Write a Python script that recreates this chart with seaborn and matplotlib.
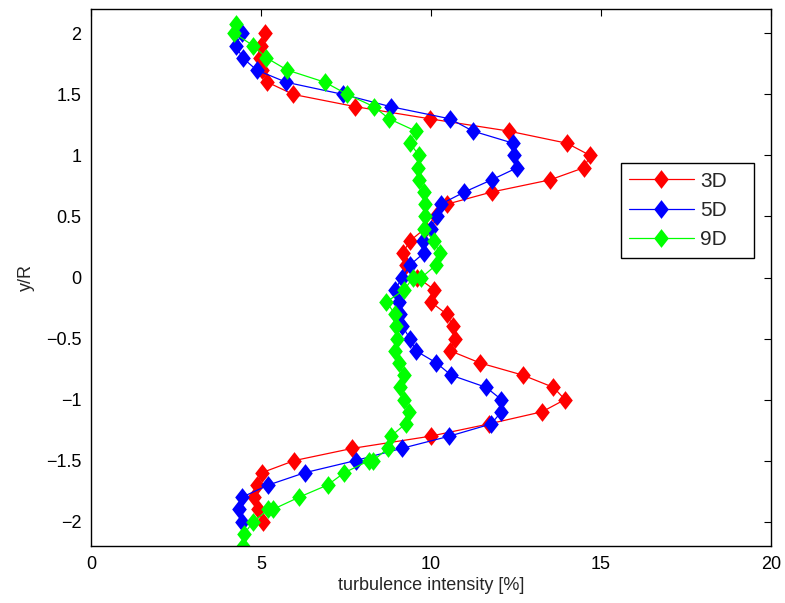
import numpy as np
import pandas as pd
import matplotlib
matplotlib.use("Agg")
import matplotlib.pyplot as plt
from matplotlib.ticker import FuncFormatter
import seaborn as sns

# ---- data ----
series_names = ["3D", "5D", "9D"]

y_3d = [2.0, 1.9, 1.8, 1.7, 1.6, 1.5, 1.4, 1.3, 1.2, 1.1, 1.0, 0.9, 0.8, 0.7, 0.6,
        0.5, 0.4, 0.3, 0.2, 0.1, 0.0, -0.1, -0.2, -0.3, -0.4, -0.5, -0.6, -0.7,
        -0.8, -0.9, -1.0, -1.1, -1.2, -1.3, -1.4, -1.5, -1.6, -1.7, -1.8, -1.9, -2.0]
ti_3d = [5.12, 5.00, 4.98, 5.03, 5.19, 5.95, 7.77, 9.97, 12.28, 14.00, 14.68, 14.50,
         13.50, 11.78, 10.46, 10.15, 9.82, 9.38, 9.17, 9.26, 9.60, 10.10, 9.99,
         10.46, 10.65, 10.70, 10.56, 11.44, 12.70, 13.60, 13.94, 13.27, 11.70,
         9.99, 7.69, 5.98, 5.02, 4.87, 4.79, 4.92, 5.05]

y_5d = [2.0, 1.9, 1.8, 1.7, 1.6, 1.5, 1.4, 1.3, 1.2, 1.1, 1.0, 0.9, 0.8, 0.7, 0.6,
        0.5, 0.4, 0.3, 0.2, 0.1, 0.0, -0.1, -0.2, -0.3, -0.4, -0.5, -0.6, -0.7,
        -0.8, -0.9, -1.0, -1.1, -1.2, -1.3, -1.4, -1.5, -1.6, -1.7, -1.8, -1.9, -2.0]
ti_5d = [4.43, 4.26, 4.46, 4.87, 5.74, 7.42, 8.81, 10.56, 11.23, 12.42, 12.44, 12.54,
         11.78, 10.98, 10.28, 10.18, 10.00, 9.77, 9.79, 9.37, 9.16, 8.94, 9.06,
         9.10, 9.16, 9.38, 9.55, 10.16, 10.59, 11.62, 12.07, 12.07, 11.77, 10.54,
         9.14, 7.78, 6.28, 5.22, 4.44, 4.35, 4.44]

y_9d = [2.08, 2.0, 1.9, 1.8, 1.7, 1.6, 1.5, 1.4, 1.3, 1.2, 1.1, 1.0, 0.9, 0.8, 0.7,
        0.6, 0.5, 0.4, 0.3, 0.2, 0.1, 0.0, 0.0, -0.1, -0.2, -0.3, -0.4, -0.5, -0.6,
        -0.7, -0.8, -0.9, -1.0, -1.1, -1.2, -1.3, -1.4, -1.5, -1.5, -1.6, -1.7,
        -1.8, -1.9, -1.9, -2.0, -2.1, -2.2]
ti_9d = [4.25, 4.22, 4.77, 5.16, 5.77, 6.88, 7.54, 8.32, 8.77, 9.55, 9.38, 9.65,
         9.63, 9.65, 9.80, 9.82, 9.82, 9.80, 10.09, 10.25, 10.14, 9.72, 9.47,
         9.22, 8.69, 8.94, 8.97, 8.99, 8.93, 9.05, 9.20, 9.09, 9.20, 9.36, 9.25,
         8.82, 8.73, 8.30, 8.18, 7.45, 6.96, 6.12, 5.35, 5.22, 4.77, 4.51, 4.48]

x_ticks = [0, 5, 10, 15, 20]
y_ticks = [-2, -1.5, -1, -0.5, 0, 0.5, 1, 1.5, 2]

frames = []
for name, ys, xs in zip(series_names, [y_3d, y_5d, y_9d], [ti_3d, ti_5d, ti_9d]):
    frames.append(pd.DataFrame({"ti": xs, "y": ys, "series": name,
                                "order": np.arange(len(xs))}))
df = pd.concat(frames, ignore_index=True)

# ---- style ----
sns.set_theme(style="white")
plt.rcParams["font.family"] = ["Liberation Sans", "DejaVu Sans"]
plt.rcParams["axes.unicode_minus"] = True

palette = {"3D": "#ff0000", "5D": "#0000ff", "9D": "#00ff00"}
diamond = [(0, 1), (0.78, 0), (0, -1), (-0.78, 0), (0, 1)]

fig = plt.figure(figsize=(7.85, 6.03), dpi=100)
ax = fig.add_axes([91 / 785, 1 - 546 / 603, 680 / 785, 537 / 603])

sns.lineplot(data=df, x="ti", y="y", hue="series", palette=palette,
             hue_order=series_names, sort=False, estimator=None, units="series",
             marker=diamond, markersize=13.5, markeredgewidth=0,
             linewidth=0.9, legend=False, ax=ax)

ax.set_xlim(0, 20)
ax.set_ylim(-2.2, 2.2)
ax.set_xticks(x_ticks)
ax.set_yticks(y_ticks)
fmt = FuncFormatter(lambda v, p: ("%g" % v).replace("-", "\u2212"))
ax.xaxis.set_major_formatter(fmt)
ax.yaxis.set_major_formatter(fmt)
ax.tick_params(axis="both", which="major", direction="in", length=5, width=0.8,
               top=True, right=True, labelsize=13, colors="black", pad=7)
for s in ax.spines.values():
    s.set_color("black")
    s.set_linewidth(1.0)
    s.set_visible(True)

ax.set_xlabel("turbulence intensity [%]", fontsize=13, labelpad=3)
ax.set_ylabel("y/R", fontsize=13, labelpad=8)
ax.grid(False)
ax.set_facecolor("white")

lines = ax.get_lines()[:3]
leg = ax.legend(lines, series_names, loc="upper left",
                bbox_to_anchor=(0.779, 0.7127, 0.196, 0.0), mode="expand",
                borderaxespad=0, fontsize=15, handlelength=3.1,
                handletextpad=0.3, labelspacing=0.5, borderpad=0.4,
                fancybox=False, framealpha=1, edgecolor="black", frameon=True)
leg.get_frame().set_linewidth(1.0)

fig.savefig("out.png", dpi=100, facecolor="white")
